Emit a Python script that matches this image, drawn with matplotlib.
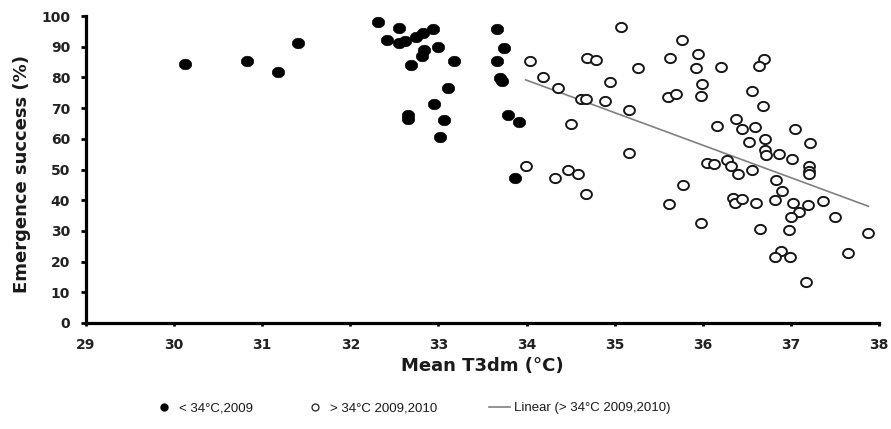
import numpy as np
import matplotlib
matplotlib.use("Agg")
import matplotlib.pyplot as plt
from matplotlib.path import Path
from matplotlib.lines import Line2D

# ---- data ----
cool_t = [30.12, 30.83, 31.18, 31.41, 32.31, 32.55, 32.94, 32.42, 32.55, 32.62,
          32.75, 32.82, 33.00, 32.84, 32.81, 32.69, 33.18, 33.11, 32.95, 32.65,
          32.65, 33.06, 33.02, 33.66, 33.74, 33.66, 33.70, 33.72, 33.79, 33.91, 33.87]
cool_es = [84.4, 85.3, 81.7, 91.2, 98.1, 96.1, 95.9, 92.1, 91.3, 92.0,
           93.1, 94.4, 89.9, 88.9, 87.0, 84.0, 85.3, 76.4, 71.2, 67.8,
           66.6, 66.1, 60.7, 95.8, 89.7, 85.3, 79.8, 78.8, 67.8, 65.5, 47.1]

warm_t = [34.04, 34.19, 34.36, 34.62, 34.68, 34.69, 34.79, 34.95, 34.89, 35.16,
          34.50, 35.07, 35.27, 35.16, 33.99, 34.32, 34.47, 34.58, 34.68, 35.76,
          35.63, 35.95, 35.92, 36.21, 35.99, 35.60, 35.70, 35.98, 36.70, 36.64,
          36.56, 36.68, 36.38, 36.16, 36.44, 36.59, 37.05, 36.71, 36.53, 37.22,
          36.71, 36.72, 36.87, 37.01, 36.05, 36.13, 36.28, 36.32, 36.40, 36.56,
          37.20, 37.21, 37.20, 35.77, 35.62, 35.98, 36.34, 36.37, 36.45, 36.60,
          36.83, 36.90, 36.82, 37.02, 37.19, 37.09, 37.36, 37.00, 37.50, 36.98,
          36.65, 37.88, 36.89, 36.82, 36.99, 37.65, 37.17]
warm_es = [85.3, 80.0, 76.4, 73.0, 73.1, 86.4, 85.6, 78.4, 72.3, 69.3,
           64.7, 96.5, 83.2, 55.5, 51.1, 47.2, 49.7, 48.6, 41.9, 92.1,
           86.2, 87.6, 83.2, 83.5, 77.9, 73.7, 74.6, 74.0, 85.9, 83.8,
           75.7, 70.8, 66.4, 64.2, 63.2, 63.7, 63.2, 60.0, 58.9, 58.5,
           56.4, 54.7, 55.2, 53.5, 52.1, 51.9, 53.2, 51.1, 48.5, 49.7,
           51.3, 49.5, 48.4, 45.0, 38.8, 32.5, 40.6, 39.2, 40.3, 39.0,
           46.5, 42.9, 40.1, 39.2, 38.4, 36.2, 39.8, 34.4, 34.4, 30.2,
           30.6, 29.3, 23.6, 21.6, 21.6, 22.9, 13.3]

x_ticks = [29, 30, 31, 32, 33, 34, 35, 36, 37, 38]
y_ticks = [0, 10, 20, 30, 40, 50, 60, 70, 80, 90, 100]

label_cool = "< 34°C,2009"
label_warm = "> 34°C 2009,2010"
label_lin = "Linear (> 34°C 2009,2010)"

# ---- figure ----
plt.rcParams['font.family'] = ['DejaVu Sans']
fig = plt.figure(figsize=(8.91, 4.29), dpi=100)
ax = fig.add_axes([86/891, 1-323/429, (879-86)/891, (323-16)/429])

# slightly wide ellipse marker (the reference is horizontally stretched)
theta = np.linspace(0, 2*np.pi, 60)
ell = Path(np.column_stack([1.18*np.cos(theta), np.sin(theta)]), closed=True)

ax.plot(cool_t, cool_es, linestyle='none', marker=ell, markersize=9,
        markerfacecolor='black', markeredgecolor='black', markeredgewidth=0.4,
        zorder=3)
ax.plot(warm_t, warm_es, linestyle='none', marker=ell, markersize=7.8,
        markerfacecolor='white', markeredgecolor='#161616', markeredgewidth=1.4,
        zorder=3)

wt = np.array(warm_t); we = np.array(warm_es)
coef = np.polyfit(wt, we, 1)
xl = np.array([wt.min(), wt.max()])
ax.plot(xl, np.polyval(coef, xl), color='#808080', linewidth=1.2, zorder=2)

ax.set_xlim(29, 38)
ax.set_ylim(0, 100)
ax.set_xticks(x_ticks)
ax.set_yticks(y_ticks)
ax.set_xticklabels([str(v) for v in x_ticks], fontweight='bold', fontsize=10, color='#222222')
ax.set_yticklabels([str(v) for v in y_ticks], fontweight='bold', fontsize=10, color='#222222')

for s in ['top', 'right']:
    ax.spines[s].set_visible(False)
for s in ['left', 'bottom']:
    ax.spines[s].set_linewidth(2.3)
    ax.spines[s].set_color('black')
    ax.spines[s].set_capstyle('projecting')
ax.tick_params(axis='y', direction='out', length=3.5, width=2, pad=8)
ax.tick_params(axis='x', direction='out', length=2.5, width=2, pad=8)

ax.set_xlabel("Mean T3dm (°C)", fontsize=13, fontweight='bold', color='#1a1a1a', va='center')
ax.xaxis.set_label_coords(0.5, (323-366)/307)
ax.set_ylabel("Emergence success (%)", fontsize=13, fontweight='bold', color='#1a1a1a', va='center')
ax.yaxis.set_label_coords((22-86)/793, 0.485)

handles = [
    Line2D([], [], linestyle='none', marker='o', markersize=5,
           markerfacecolor='black', markeredgecolor='black'),
    Line2D([], [], linestyle='none', marker='o', markersize=5,
           markerfacecolor='white', markeredgecolor='#222222', markeredgewidth=0.9),
    Line2D([], [], color='#808080', linewidth=1.2),
]
leg = fig.legend(handles, [label_cool, label_warm, label_lin], loc='center',
                 bbox_to_anchor=(412/891, 1-408/429), ncol=3, frameon=False,
                 prop={'family': 'Liberation Sans', 'size': 9.5},
                 handlelength=1.6, handletextpad=0.35, columnspacing=3.9)
for t in leg.get_texts():
    t.set_color('#1a1a1a')

fig.savefig("out.png", dpi=100, facecolor='white')
